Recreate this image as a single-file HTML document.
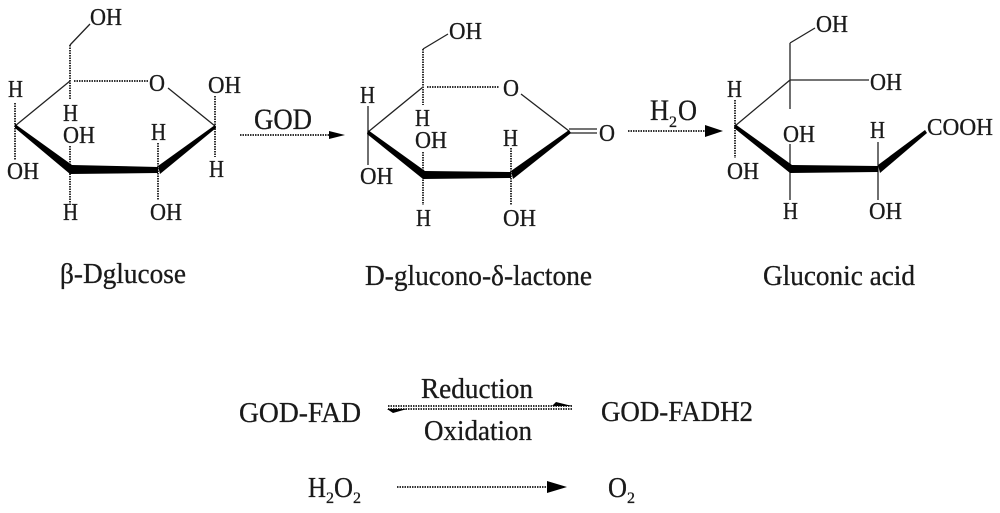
<!DOCTYPE html>
<html><head><meta charset="utf-8"><style>
html,body{margin:0;padding:0;background:#fff;width:1000px;height:513px;overflow:hidden}
svg{display:block}
text{font-family:"Liberation Serif","Noto Serif CJK SC",serif;fill:#1a1a1a;stroke:#1a1a1a;stroke-width:.3}
.a{font-size:24.5px}.c{font-size:28px}.s{font-size:16px}.h{font-size:30px}
</style></head><body>
<svg width="1000" height="513" viewBox="0 0 1000 513" xmlns="http://www.w3.org/2000/svg">
<g stroke="#222" stroke-width="1.3" fill="none">
<path d="M70 45L90 24M70 81L15 126M168 88L215 126"/>
<path d="M423 49L448 34M423 87L368 132V165M368 106V132M521 94L569 131M569 129H597M569 133H597"/>
<path d="M790 43L815 28M790 43V109M790 80H869M735 126L790 80M790 144V200M878 142V200"/>
</g>
<g stroke="#333" stroke-width="2" fill="none" stroke-dasharray="1.5 1">
<path d="M70 45V100M74 81H148M15 103V160M70 146V205M158 143V200M215 96V157"/>
<path d="M423 49V105M427 87H499M423 152V205M511 148V205"/>
<path d="M735 100V158"/>
<path d="M240 135H330M628 131H706M397 487H548M388 406H572M388 409H572"/>
</g>
<g fill="#000">
<path d="M15 124L72 165L158 167V173L70 174L15 128Z"/>
<path d="M158 166L215 125L216 128L160 174Z"/>
<path d="M368 130L425 171L511 172V178L423 179L367 134Z"/>
<path d="M511 171L569 130L571 133L513 179Z"/>
<path d="M735 124L792 165L878 166V172L790 173L734 128Z"/>
<path d="M878 165L925 130L927 133L880 173Z"/>
<path d="M329 131L345 135L329 139Z"/>
<path d="M705 125L723 131L705 137Z"/>
<path d="M547 481L567 487L547 493Z"/>
<path d="M552 406L572 406L556 402Z"/>
<path d="M387 409L407 409L393 413Z"/>
</g>
<text class="a" x="90" y="25" textLength="32" lengthAdjust="spacingAndGlyphs">OH</text>
<text class="a" x="149" y="91" textLength="16" lengthAdjust="spacingAndGlyphs">O</text>
<text class="a" x="8" y="97" textLength="15" lengthAdjust="spacingAndGlyphs">H</text>
<text class="a" x="7" y="179" textLength="32" lengthAdjust="spacingAndGlyphs">OH</text>
<text class="a" x="63" y="121" textLength="15" lengthAdjust="spacingAndGlyphs">H</text>
<text class="a" x="63" y="143" textLength="32" lengthAdjust="spacingAndGlyphs">OH</text>
<text class="a" x="151" y="140" textLength="15" lengthAdjust="spacingAndGlyphs">H</text>
<text class="a" x="208" y="93" textLength="33" lengthAdjust="spacingAndGlyphs">OH</text>
<text class="a" x="209" y="177" textLength="15" lengthAdjust="spacingAndGlyphs">H</text>
<text class="a" x="63" y="220" textLength="15" lengthAdjust="spacingAndGlyphs">H</text>
<text class="a" x="150" y="220" textLength="32" lengthAdjust="spacingAndGlyphs">OH</text>
<text class="h" x="254" y="129" textLength="58" lengthAdjust="spacingAndGlyphs">GOD</text>

<text class="a" x="449" y="39" textLength="33" lengthAdjust="spacingAndGlyphs">OH</text>
<text class="a" x="503" y="96" textLength="16" lengthAdjust="spacingAndGlyphs">O</text>
<text class="a" x="360" y="103" textLength="15" lengthAdjust="spacingAndGlyphs">H</text>
<text class="a" x="360" y="184" textLength="33" lengthAdjust="spacingAndGlyphs">OH</text>
<text class="a" x="415" y="126" textLength="15" lengthAdjust="spacingAndGlyphs">H</text>
<text class="a" x="415" y="148" textLength="32" lengthAdjust="spacingAndGlyphs">OH</text>
<text class="a" x="503" y="146" textLength="15" lengthAdjust="spacingAndGlyphs">H</text>
<text class="a" x="599" y="141" textLength="16" lengthAdjust="spacingAndGlyphs">O</text>
<text class="a" x="416" y="226" textLength="15" lengthAdjust="spacingAndGlyphs">H</text>
<text class="a" x="503" y="226" textLength="33" lengthAdjust="spacingAndGlyphs">OH</text>

<text class="h" x="650" y="120" textLength="19" lengthAdjust="spacingAndGlyphs">H</text>
<text class="s" x="669" y="127">2</text>
<text class="h" x="678" y="120" textLength="19" lengthAdjust="spacingAndGlyphs">O</text>

<text class="a" x="816" y="32" textLength="32" lengthAdjust="spacingAndGlyphs">OH</text>
<text class="a" x="870" y="90" textLength="32" lengthAdjust="spacingAndGlyphs">OH</text>
<text class="a" x="727" y="97" textLength="15" lengthAdjust="spacingAndGlyphs">H</text>
<text class="a" x="727" y="179" textLength="32" lengthAdjust="spacingAndGlyphs">OH</text>
<text class="a" x="783" y="142" textLength="32" lengthAdjust="spacingAndGlyphs">OH</text>
<text class="a" x="870" y="138" textLength="15" lengthAdjust="spacingAndGlyphs">H</text>
<text class="a" x="927" y="135" textLength="66" lengthAdjust="spacingAndGlyphs">COOH</text>
<text class="a" x="783" y="219" textLength="15" lengthAdjust="spacingAndGlyphs">H</text>
<text class="a" x="869" y="219" textLength="33" lengthAdjust="spacingAndGlyphs">OH</text>

<text class="c" x="60" y="283" textLength="126" lengthAdjust="spacingAndGlyphs">β-Dglucose</text>
<text class="c" x="365" y="285" textLength="227" lengthAdjust="spacingAndGlyphs">D-glucono-δ-lactone</text>
<text class="c" x="763" y="285" textLength="152" lengthAdjust="spacingAndGlyphs">Gluconic acid</text>

<text class="c" x="239" y="422" textLength="122" lengthAdjust="spacingAndGlyphs">GOD-FAD</text>
<text class="c" x="421" y="398" textLength="112" lengthAdjust="spacingAndGlyphs">Reduction</text>
<text class="c" x="424" y="440" textLength="108" lengthAdjust="spacingAndGlyphs">Oxidation</text>
<text class="c" x="601" y="421" textLength="152" lengthAdjust="spacingAndGlyphs">GOD-FADH2</text>

<text class="c" x="308" y="497" textLength="18" lengthAdjust="spacingAndGlyphs">H</text>
<text class="s" x="326" y="503">2</text>
<text class="c" x="334" y="497" textLength="19" lengthAdjust="spacingAndGlyphs">O</text>
<text class="s" x="353" y="503">2</text>
<text class="c" x="608" y="497" textLength="19" lengthAdjust="spacingAndGlyphs">O</text>
<text class="s" x="627" y="503">2</text>
</svg>
</body></html>
